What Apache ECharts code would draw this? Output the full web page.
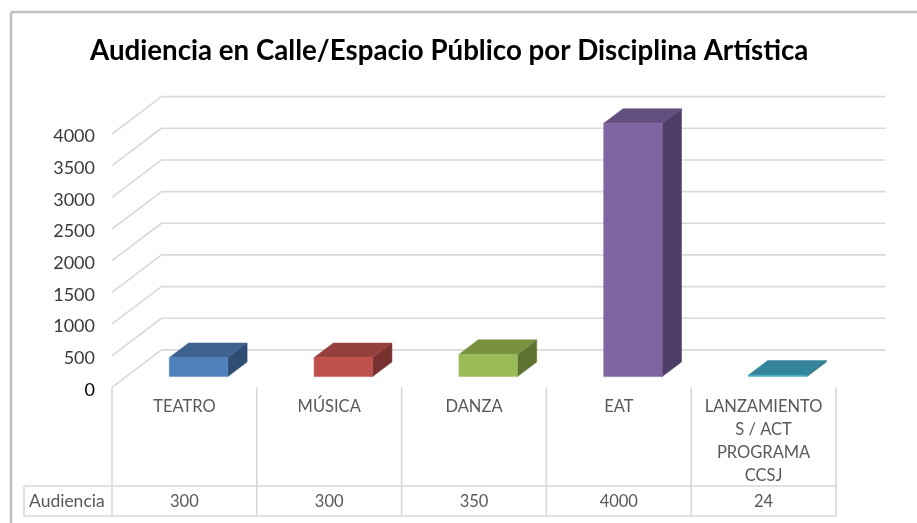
<!DOCTYPE html>
<html>
<head>
<meta charset="utf-8">
<style>html,body{margin:0;padding:0;background:#fff}#c{width:917px;height:523px}</style>
<script src="https://cdn.jsdelivr.net/npm/echarts@6/dist/echarts.min.js"></script>
</head>
<body>
<div id="c"></div>
<script>
const chartTitle = 'Audiencia en Calle/Espacio Público por Disciplina Artística';
const seriesName = 'Audiencia';
const categories = ['TEATRO', 'MÚSICA', 'DANZA', 'EAT', 'LANZAMIENTO\nS / ACT\nPROGRAMA\nCCSJ'];
const values = [300, 300, 350, 4000, 24];
const yTicks = [0, 500, 1000, 1500, 2000, 2500, 3000, 3500, 4000];
const frontColors = ['#4f81bd', '#c0504d', '#9bbb59', '#8064a2', '#4bacc6'];
const topColors = ['#3e6390', '#96403d', '#78923f', '#634e80', '#34849a'];
const sideColors = ['#2f4d73', '#773130', '#5e7331', '#4e3d66', '#2b6b7d'];

const WALL_DX = 49.5, WALL_DY = 37.4;
const BAR_OFFSET = 0.286, BAR_DEPTH = 0.39, BAR_WIDTH = 0.404;
const LINE = '#d9d9d9', FONT = 'Lato, Carlito, sans-serif', GREY = '#595959';
const TABLE_LEFT = 24, TABLE_ROW = 486, TABLE_BOTTOM = 516;

const chart = echarts.init(document.getElementById('c'), null, {renderer: 'canvas'});

function lineEl(x1, y1, x2, y2) {
  return {type: 'line', shape: {x1, y1, x2, y2}, style: {stroke: LINE, lineWidth: 1.6, fill: null}};
}

chart.setOption({
  animation: false,
  backgroundColor: '#fff',
  title: {
    text: chartTitle, left: 85, top: 32,
    textStyle: {fontFamily: FONT, fontSize: 27.7, fontWeight: 'bold', color: '#000'}
  },
  graphic: [
    {type: 'line', shape: {x1: 11, y1: 12, x2: 917, y2: 12}, style: {stroke: '#bfbfbf', lineWidth: 2.5}},
    {type: 'line', shape: {x1: 11, y1: 12, x2: 11, y2: 523}, style: {stroke: '#bfbfbf', lineWidth: 2.5}},
    {type: 'text', left: 29, top: 492, style: {text: seriesName, fill: GREY, font: '17.5px ' + FONT}}
  ],
  grid: {left: 112, width: 724, top: 134, height: 253.3},
  xAxis: [
    {
      type: 'category', data: categories, position: 'bottom',
      axisLine: {show: false}, axisTick: {show: false},
      axisLabel: {interval: 0, color: GREY, fontFamily: FONT, fontSize: 16.5, lineHeight: 23, margin: 8, verticalAlign: 'top', hideOverlap: false}
    },
    {
      type: 'category', data: values.map(String), position: 'bottom', offset: 106,
      axisLine: {show: false}, axisTick: {show: false},
      axisLabel: {interval: 0, color: GREY, fontFamily: FONT, fontSize: 16.5, margin: 0, verticalAlign: 'top', hideOverlap: false}
    }
  ],
  yAxis: {
    type: 'value', min: 0, max: 4000, interval: 500,
    axisLine: {show: false}, axisTick: {show: false}, splitLine: {show: false},
    axisLabel: {margin: 17, verticalAlign: 'top', lineHeight: 5, fontFamily: FONT, fontSize: 18, formatter: v => String(v), color: v => (+v === 0 ? '#000' : '#3a3a3a')}
  },
  series: [
    {
      type: 'custom', silent: true, z: 1, clip: false,
      data: yTicks.map(t => [0, t]),
      encode: {x: 0, y: 1},
      renderItem(params, api) {
        const t = api.value(1), half = api.size([1, 0])[0] / 2;
        const p0 = api.coord([0, t]), p1 = api.coord([categories.length - 1, t]);
        const xl = p0[0] - half, xr = p1[0] + half, y = p0[1];
        return {type: 'group', children: [
          lineEl(xl, y, xl + WALL_DX, y - WALL_DY),
          lineEl(xl + WALL_DX, y - WALL_DY, xr + WALL_DX, y - WALL_DY)
        ]};
      }
    },
    {
      type: 'custom', silent: true, z: 1, clip: false,
      data: categories.map((c, i) => [i, 0]),
      encode: {x: 0, y: 1},
      renderItem(params, api) {
        const i = api.value(0), half = api.size([1, 0])[0] / 2, p = api.coord([i, 0]);
        const xl = p[0] - half, xr = p[0] + half;
        const kids = [
          lineEl(xl, p[1], xl, TABLE_BOTTOM),
          lineEl(xl, TABLE_ROW, xr, TABLE_ROW),
          lineEl(xl, TABLE_BOTTOM, xr, TABLE_BOTTOM)
        ];
        if (i === 0) {
          kids.push(lineEl(TABLE_LEFT, TABLE_ROW, xl, TABLE_ROW), lineEl(TABLE_LEFT, TABLE_BOTTOM, xl, TABLE_BOTTOM), lineEl(TABLE_LEFT, TABLE_ROW, TABLE_LEFT, TABLE_BOTTOM));
        }
        if (i === categories.length - 1) kids.push(lineEl(xr, p[1], xr, TABLE_BOTTOM));
        return {type: 'group', children: kids};
      }
    },
    {
      name: seriesName, type: 'custom', z: 3, clip: false,
      data: values.map((v, i) => [i, v]),
      encode: {x: 0, y: 1},
      renderItem(params, api) {
        const i = api.value(0), v = api.value(1);
        const cw = api.size([1, 0])[0];
        const b = api.coord([i, 0]), t = api.coord([i, v]);
        const w = cw * BAR_WIDTH;
        const x0 = b[0] + WALL_DX * BAR_OFFSET - w / 2, x1 = x0 + w;
        const yb = b[1] - WALL_DY * BAR_OFFSET, yt = t[1] - WALL_DY * BAR_OFFSET;
        const dx = WALL_DX * BAR_DEPTH, dy = WALL_DY * BAR_DEPTH;
        const poly = (points, fill) => ({type: 'polygon', shape: {points}, style: {fill, stroke: fill, lineWidth: 0.5}});
        return {type: 'group', children: [
          poly([[x1, yt], [x1 + dx, yt - dy], [x1 + dx, yb - dy], [x1, yb]], sideColors[i]),
          poly([[x0, yt], [x0 + dx, yt - dy], [x1 + dx, yt - dy], [x1, yt]], topColors[i]),
          poly([[x0, yt], [x1, yt], [x1, yb], [x0, yb]], frontColors[i])
        ]};
      }
    }
  ]
});
</script>
</body>
</html>
